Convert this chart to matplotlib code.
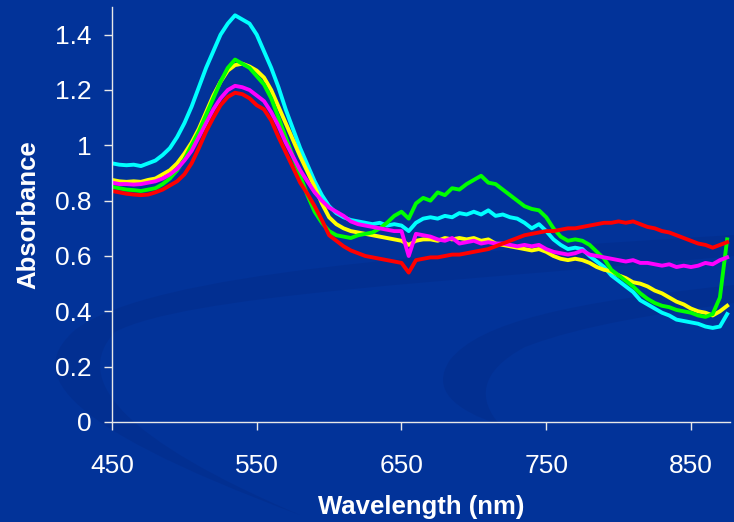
import matplotlib
matplotlib.use('Agg')
import matplotlib.pyplot as plt
from matplotlib.path import Path
from matplotlib.patches import PathPatch

plt.rcParams['font.family'] = ['Liberation Sans', 'DejaVu Sans']

# wavelength grid (nm), every 5 nm
wavelength = list(range(450, 880, 5))

cyan = [0.935, 0.93, 0.928, 0.93, 0.925, 0.935, 0.945, 0.965, 0.99, 1.03,
        1.08, 1.14, 1.21, 1.28, 1.34, 1.40, 1.44, 1.47, 1.455, 1.44,
        1.40, 1.34, 1.28, 1.21, 1.13, 1.06, 0.99, 0.93, 0.87, 0.82,
        0.78, 0.755, 0.74, 0.73, 0.725, 0.72, 0.715, 0.72, 0.71, 0.715,
        0.71, 0.69, 0.72, 0.735, 0.74, 0.735, 0.745, 0.74, 0.755, 0.75,
        0.76, 0.75, 0.765, 0.745, 0.75, 0.74, 0.735, 0.72, 0.70, 0.715,
        0.69, 0.66, 0.64, 0.625, 0.63, 0.625, 0.60, 0.58, 0.56, 0.53,
        0.51, 0.49, 0.47, 0.44, 0.425, 0.41, 0.395, 0.385, 0.37, 0.365,
        0.36, 0.355, 0.345, 0.34, 0.345, 0.39]

yellow = [0.875, 0.87, 0.868, 0.87, 0.868, 0.875, 0.88, 0.895, 0.91, 0.935,
          0.97, 1.01, 1.06, 1.12, 1.18, 1.23, 1.27, 1.29, 1.295, 1.285,
          1.27, 1.245, 1.20, 1.14, 1.08, 1.02, 0.96, 0.905, 0.85, 0.79,
          0.74, 0.715, 0.70, 0.69, 0.685, 0.68, 0.675, 0.67, 0.665, 0.66,
          0.655, 0.64, 0.655, 0.66, 0.66, 0.655, 0.665, 0.66, 0.665, 0.66,
          0.665, 0.655, 0.66, 0.645, 0.64, 0.635, 0.63, 0.625, 0.62, 0.625,
          0.615, 0.60, 0.59, 0.585, 0.59, 0.585, 0.575, 0.56, 0.55, 0.545,
          0.53, 0.52, 0.505, 0.50, 0.49, 0.475, 0.465, 0.45, 0.435, 0.425,
          0.41, 0.40, 0.395, 0.385, 0.40, 0.42]

green = [0.85, 0.845, 0.84, 0.838, 0.835, 0.84, 0.845, 0.86, 0.88, 0.91,
         0.95, 1.00, 1.05, 1.11, 1.17, 1.23, 1.28, 1.31, 1.295, 1.28,
         1.25, 1.22, 1.17, 1.10, 1.03, 0.96, 0.89, 0.82, 0.76, 0.72,
         0.69, 0.675, 0.67, 0.665, 0.675, 0.68, 0.685, 0.70, 0.72, 0.745,
         0.76, 0.735, 0.79, 0.81, 0.80, 0.83, 0.82, 0.845, 0.84, 0.86,
         0.875, 0.89, 0.865, 0.86, 0.84, 0.82, 0.80, 0.78, 0.77, 0.765,
         0.74, 0.70, 0.67, 0.655, 0.66, 0.655, 0.64, 0.615, 0.59, 0.55,
         0.53, 0.51, 0.49, 0.465, 0.445, 0.43, 0.42, 0.415, 0.405, 0.40,
         0.395, 0.385, 0.38, 0.39, 0.45, 0.66]

magenta = [0.865, 0.86, 0.86, 0.858, 0.86, 0.865, 0.87, 0.88, 0.895, 0.915,
           0.945, 0.98, 1.03, 1.08, 1.13, 1.17, 1.20, 1.215, 1.21, 1.20,
           1.18, 1.16, 1.12, 1.07, 1.01, 0.96, 0.91, 0.87, 0.83, 0.80,
           0.775, 0.76, 0.745, 0.725, 0.715, 0.71, 0.705, 0.70, 0.695, 0.69,
           0.69, 0.60, 0.68, 0.675, 0.67, 0.66, 0.655, 0.665, 0.645, 0.65,
           0.655, 0.645, 0.65, 0.645, 0.645, 0.64, 0.635, 0.64, 0.635, 0.64,
           0.625, 0.615, 0.61, 0.605, 0.61, 0.62, 0.605, 0.60, 0.595, 0.59,
           0.585, 0.58, 0.585, 0.575, 0.575, 0.57, 0.565, 0.57, 0.56, 0.565,
           0.56, 0.565, 0.575, 0.57, 0.585, 0.595]

red = [0.835, 0.83, 0.825, 0.822, 0.82, 0.822, 0.83, 0.84, 0.855, 0.87,
       0.895, 0.935, 0.99, 1.05, 1.10, 1.145, 1.175, 1.19, 1.185, 1.17,
       1.145, 1.13, 1.09, 1.03, 0.975, 0.92, 0.865, 0.825, 0.78, 0.73,
       0.675, 0.655, 0.635, 0.62, 0.61, 0.60, 0.595, 0.59, 0.585, 0.58,
       0.575, 0.54, 0.585, 0.59, 0.595, 0.595, 0.60, 0.605, 0.605, 0.61,
       0.615, 0.62, 0.625, 0.635, 0.645, 0.655, 0.665, 0.675, 0.68, 0.685,
       0.69, 0.69, 0.695, 0.70, 0.70, 0.705, 0.71, 0.715, 0.72, 0.72,
       0.725, 0.72, 0.725, 0.715, 0.705, 0.70, 0.69, 0.685, 0.675, 0.665,
       0.655, 0.645, 0.64, 0.63, 0.64, 0.65]

series = [(cyan, '#00FFFF'), (yellow, '#FFFF00'), (green, '#00FF00'),
          (magenta, '#FF00FF'), (red, '#FF0000')]

bg = '#023399'
fg = '#E8E8E8'

fig = plt.figure(figsize=(7.34, 5.22), dpi=100, facecolor=bg)

# background layer for the decorative swooshes (pixel coords, y from top)
bgax = fig.add_axes([0, 0, 1, 1], zorder=-5)
bgax.set_xlim(0, 734)
bgax.set_ylim(522, 0)
bgax.axis('off')

swooshes = [
    [(734, 235), (450, 252), (150, 272), (75, 330),
     (30, 370), (45, 420), (300, 515),
     (125, 440), (70, 380), (115, 332),
     (185, 295), (450, 282), (734, 256)],
    [(734, 285), (570, 302), (480, 322), (450, 360),
     (430, 390), (455, 410), (500, 425),
     (478, 400), (478, 372), (525, 347),
     (585, 324), (660, 314), (734, 303)],
]
codes = [Path.MOVETO] + [Path.CURVE4] * 12 + [Path.CLOSEPOLY]
for pts in swooshes:
    verts = pts + [pts[0]]
    bgax.add_patch(PathPatch(Path(verts, codes), facecolor='#022B88',
                             edgecolor='none', alpha=0.45))

ax = fig.add_axes([0.1526, 0.1916, 0.842, 0.795])
ax.set_facecolor('none')

for vals, col in series:
    ax.plot(wavelength, vals, color=col, linewidth=2.8)

ax.set_xlim(450, 877)
ax.set_ylim(0, 1.5)
ax.set_xticks([450, 550, 650, 750, 850])
ax.set_yticks([0, 0.2, 0.4, 0.6, 0.8, 1, 1.2, 1.4])
ax.set_yticklabels(['0', '0.2', '0.4', '0.6', '0.8', '1', '1.2', '1.4'])

for s in ['top', 'right']:
    ax.spines[s].set_visible(False)
for s in ['left', 'bottom']:
    ax.spines[s].set_color(fg)
    ax.spines[s].set_linewidth(1.0)

ax.tick_params(axis='x', direction='out', length=6, width=1, color=fg,
               labelcolor='white', labelsize=19, pad=17)
ax.tick_params(axis='y', direction='out', length=6, width=1, color=fg,
               labelcolor='white', labelsize=19, pad=9)

ax.set_xlabel('Wavelength (nm)', fontsize=18.5, fontweight='bold', color='white', labelpad=12)
ax.set_ylabel('Absorbance', fontsize=18.5, fontweight='bold', color='white', labelpad=10)

fig.savefig('out.png', dpi=100, facecolor=bg)
